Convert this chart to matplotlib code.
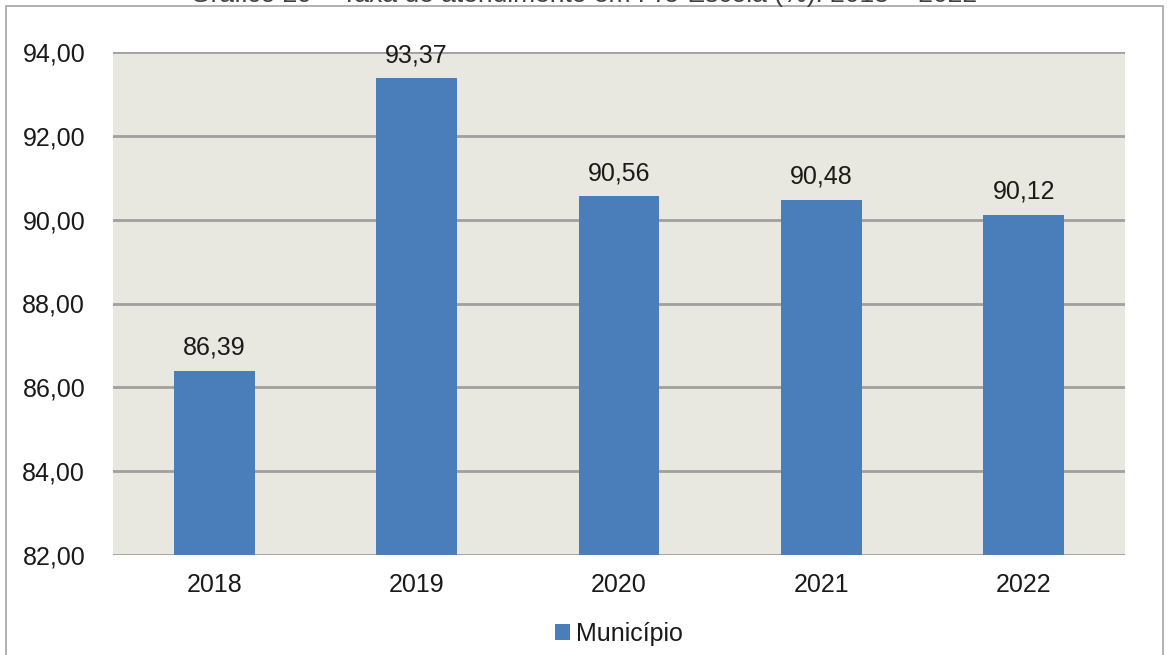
import matplotlib.pyplot as plt
from matplotlib.patches import Rectangle
from matplotlib.ticker import FuncFormatter

plt.rcParams['font.family'] = ['Liberation Sans', 'DejaVu Sans']

# data
anos = ['2018', '2019', '2020', '2021', '2022']
taxa = [86.39, 93.37, 90.56, 90.48, 90.12]
serie = 'Município'

W, H = 1167, 655
fig = plt.figure(figsize=(W / 100, H / 100), dpi=100)
fig.patch.set_facecolor('white')

# outer frame of the chart
fig.add_artist(Rectangle((6 / W, -0.01), 1157 / W, 1 - 6 / H + 0.01, transform=fig.transFigure,
                         fill=False, edgecolor='#a6a6a6', linewidth=1.2))

# title cut off at the top
fig.text(0.5, 1 + 5 / H, 'Gráfico 29 – Taxa de atendimento em Pré-Escola (%): 2018 – 2022',
         ha='center', va='center', fontsize=19, color='#404040')

ax = fig.add_axes([113 / W, 1 - 555 / H, (1125 - 113) / W, (555 - 52) / H])
ax.set_facecolor('#e9e8e0')

x = range(len(anos))
bars = ax.bar(x, taxa, width=0.4, color='#4a7ebb', zorder=3, label=serie)

ax.set_ylim(82, 94)
ax.set_xlim(-0.5, len(anos) - 0.5)
ax.set_yticks([82, 84, 86, 88, 90, 92, 94])
ax.yaxis.set_major_formatter(FuncFormatter(lambda v, p: f'{v:.2f}'.replace('.', ',')))
ax.set_xticks(list(x))
ax.set_xticklabels(anos)
ax.grid(axis='y', color='#a0a0a0', linewidth=2, zorder=1)
for s in ax.spines.values():
    s.set_visible(False)
ax.tick_params(length=0, labelsize=18, colors='#1a1a1a')
ax.tick_params(axis='y', pad=20)
ax.tick_params(axis='x', pad=13)

for b, v in zip(bars, taxa):
    ax.annotate(f'{v:.2f}'.replace('.', ','), (b.get_x() + b.get_width() / 2, v),
                xytext=(0, 8), textcoords='offset points', ha='center', va='bottom',
                fontsize=18, color='#1a1a1a')

ax.legend(loc='upper center', bbox_to_anchor=(0.5, -0.088), frameon=False, fontsize=18,
          handlelength=0.6, handleheight=0.6, handletextpad=0.25, labelcolor='#1a1a1a')

fig.savefig('out.png', dpi=100, facecolor='white')
